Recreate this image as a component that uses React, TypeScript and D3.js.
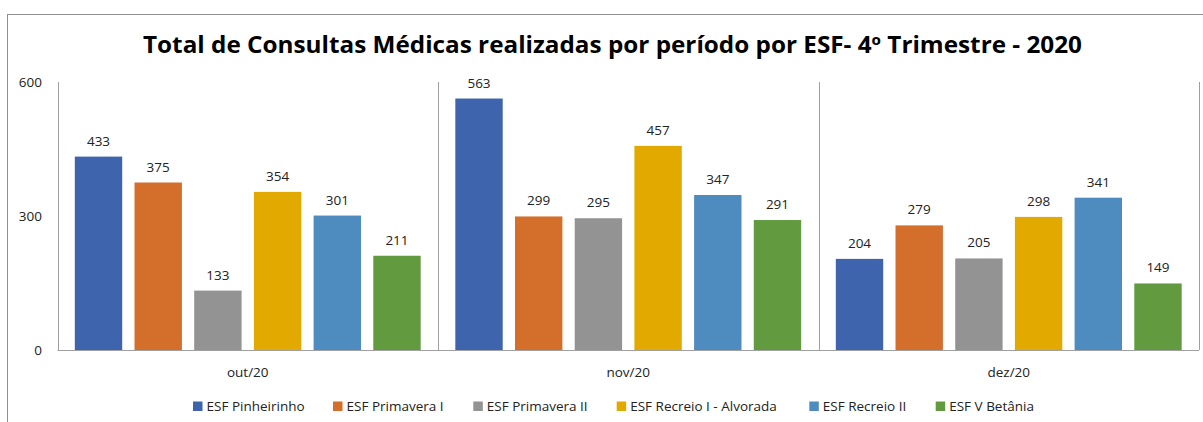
import React from "react";
import * as d3 from "d3";

const categories = ["out/20", "nov/20", "dez/20"];
const seriesNames = [
  "ESF Pinheirinho",
  "ESF Primavera I",
  "ESF Primavera II",
  "ESF Recreio I - Alvorada",
  "ESF Recreio II",
  "ESF V Betânia",
];
const pinheirinho = [433, 563, 204];
const primaveraI = [375, 299, 279];
const primaveraII = [133, 295, 205];
const recreioI = [354, 457, 298];
const recreioII = [301, 347, 341];
const vBetania = [211, 291, 149];
const seriesValues = [pinheirinho, primaveraI, primaveraII, recreioI, recreioII, vBetania];
const yTicks = [0, 300, 600];
const colors = ["#3D64AD", "#D36F2B", "#939393", "#E2AA00", "#4E8BBF", "#629B3F"];
const title = "Total de Consultas Médicas realizadas por período por ESF- 4º Trimestre - 2020";

// layout
const W = 1203;
const H = 422;
const left = 57.5;
const right = 1199;
const top = 82;
const bottom = 350;
const legendX = [193, 333, 473.3, 616.7, 809.3, 935.7];
const FONT = "'Open Sans', sans-serif";

export default function App() {
  const x0 = d3.scaleBand<string>().domain(categories).range([left, right]).padding(0);
  const x1 = d3
    .scaleBand<number>()
    .domain(d3.range(seriesNames.length))
    .range([0, x0.bandwidth()])
    .paddingInner(0.206)
    .paddingOuter(0.29);
  const y = d3.scaleLinear().domain([0, 600]).range([bottom, top]);
  const axisColor = "#a0a0a0";

  return (
    <svg
      width={W}
      height={H}
      style={{ position: "absolute", left: 0, top: 0, display: "block" }}
      fontFamily={FONT}
    >
      <rect x={0} y={0} width={W} height={H} fill="#fff" />
      <rect x={7.5} y={14.5} width={W + 20} height={H + 20} fill="#fff" stroke="#8f8f8f" strokeWidth={1} />
      <text
        x={612.5}
        y={53}
        textAnchor="middle"
        fontSize={23}
        fontWeight={700}
        fill="#000"
        textLength={939}
        lengthAdjust="spacingAndGlyphs"
      >
        {title}
      </text>

      {/* y tick labels */}
      {yTicks.map((t) => (
        <text key={t} x={42} y={y(t)} dy="0.35em" textAnchor="end" fontSize={13.5} fill="#222">
          {t}
        </text>
      ))}

      {/* bars */}
      {categories.map((c, ci) => (
        <g key={c} transform={`translate(${x0(c)},0)`}>
          {seriesValues.map((vals, si) => {
            const v = vals[ci];
            const bx = x1(si)!;
            return (
              <g key={si}>
                <rect x={bx} y={y(v)} width={x1.bandwidth()} height={y(0) - y(v)} fill={colors[si]} />
                <text
                  x={bx + x1.bandwidth() / 2}
                  y={y(v) - 11}
                  textAnchor="middle"
                  fontSize={13.5}
                  fill="#222"
                >
                  {v}
                </text>
              </g>
            );
          })}
        </g>
      ))}

      {/* axis lines and separators */}
      <line x1={left} x2={right} y1={bottom + 0.5} y2={bottom + 0.5} stroke={axisColor} />
      {[left, ...categories.map((c) => x0(c)! + x0.bandwidth())].map((xx, i) => (
        <line key={i} x1={Math.round(xx) + 0.5} x2={Math.round(xx) + 0.5} y1={top} y2={bottom} stroke={axisColor} />
      ))}

      {/* category labels */}
      {categories.map((c) => (
        <text key={c} x={x0(c)! + x0.bandwidth() / 2} y={377} textAnchor="middle" fontSize={13.5} fill="#222">
          {c}
        </text>
      ))}

      {/* legend */}
      {seriesNames.map((n, i) => (
        <g key={n} transform={`translate(${legendX[i]},0)`}>
          <rect x={0} y={401.5} width={9.5} height={9.5} fill={colors[i]} />
          <text x={13.5} y={410.5} fontSize={13.5} fill="#222">
            {n}
          </text>
        </g>
      ))}
    </svg>
  );
}
